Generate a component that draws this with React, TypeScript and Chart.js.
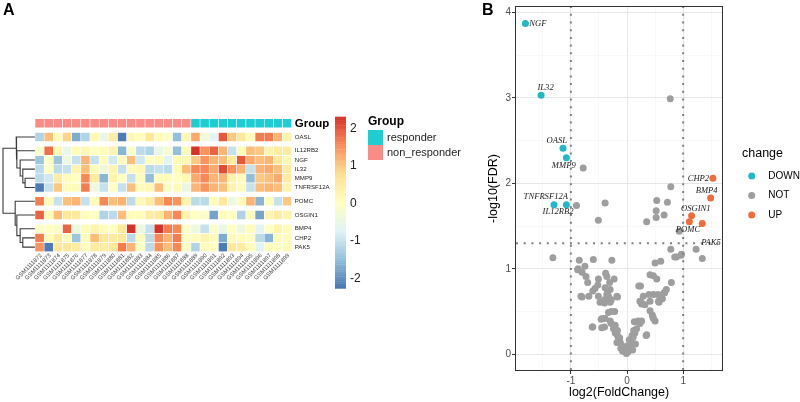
import React, { useEffect, useRef } from 'react';
import { Chart, registerables } from 'chart.js';
Chart.register(...registerables);

const SANS = "'Liberation Sans', Arial, Helvetica, sans-serif";
const SERIF = "'Liberation Serif', 'Times New Roman', serif";
Chart.defaults.font.family = SANS;

// ================= Panel A data =================
const sampleIds = [
  'GSM1111872', 'GSM1111873', 'GSM1111874', 'GSM1111875', 'GSM1111876', 'GSM1111877', 'GSM1111878',
  'GSM1111879', 'GSM1111880', 'GSM1111881', 'GSM1111882', 'GSM1111883', 'GSM1111884', 'GSM1111885',
  'GSM1111886', 'GSM1111887', 'GSM1111888', 'GSM1111889', 'GSM1111890', 'GSM1111891', 'GSM1111892',
  'GSM1111893', 'GSM1111894', 'GSM1111895', 'GSM1111896', 'GSM1111897', 'GSM1111898', 'GSM1111899',
];
const sampleGroup = [
  'non_responder', 'non_responder', 'non_responder', 'non_responder', 'non_responder', 'non_responder',
  'non_responder', 'non_responder', 'non_responder', 'non_responder', 'non_responder', 'non_responder',
  'non_responder', 'non_responder', 'non_responder', 'non_responder', 'non_responder',
  'responder', 'responder', 'responder', 'responder', 'responder', 'responder', 'responder', 'responder',
  'responder', 'responder', 'responder',
];
const groupLevels = ['responder', 'non_responder'];
const genes = ['OASL', 'IL12RB2', 'NGF', 'IL32', 'MMP9', 'TNFRSF12A', 'POMC', 'OSGIN1', 'BMP4', 'CHP2', 'PAK5'];
const geneCluster = [1, 2, 2, 2, 2, 2, 3, 4, 5, 5, 5];

const exprOASL = [-1.2, 1.1, 0.1, 0.9, -1.7, -1.2, 0.2, -0.5, 0.5, -2.2, 0.2, 0.1, 0.6, 0.1, -0.1, -1.5, 0.2, 1.3, -0.3, -0.7, 2.0, 1.0, 0.6, 0.1, 1.7, 1.7, 1.2, 0.3];
const exprIL12RB2 = [-0.2, 1.8, 0.2, -0.5, 0.1, 0.2, 0.0, 0.1, 0.3, -1.6, -0.1, -1.1, -1.2, -0.5, -0.2, -1.5, 0.1, 2.3, 1.5, 1.9, 1.2, -1.0, 0.1, 1.1, 1.0, 0.3, 0.5, 0.5];
const exprNGF = [-1.4, 0.0, -1.4, -0.4, -1.0, 1.2, -1.0, 0.1, -0.9, 0.1, 1.1, -0.9, 0.0, 0.1, -0.7, 0.1, 0.2, 1.0, 1.5, 1.2, 1.1, 0.5, 2.0, 1.3, 1.1, 1.2, 0.6, 0.2];
const exprIL32 = [-1.1, 0.0, -1.1, -1.0, 0.3, 1.1, 0.1, -0.4, 0.3, -1.0, 0.1, 0.2, -1.1, -1.0, -1.1, 0.1, 1.1, 1.6, 1.6, 1.3, 2.1, 1.5, 1.2, -1.0, 1.2, 1.3, 1.1, 0.5];
const exprMMP9 = [-1.1, -0.9, 0.5, 0.1, 0.0, 1.6, 0.5, -1.6, 0.3, 0.0, -1.0, 0.1, -1.5, 0.1, 0.1, 0.0, 0.2, 1.3, 1.6, 1.2, 1.2, 0.3, 0.1, -1.5, 1.0, 1.1, 1.3, 0.5];
const exprTNFRSF12A = [-2.2, -1.0, 1.0, 0.1, 0.1, 1.7, -0.4, -1.0, 0.0, -1.0, 1.1, 0.1, 0.2, 1.1, -0.1, 0.1, -0.5, 1.2, 1.5, 1.2, 1.1, 0.3, 0.1, -1.0, 1.1, 1.2, 1.1, 0.3];
const exprPOMC = [1.7, 0.1, -1.0, 1.1, 1.2, -1.0, 0.1, 1.6, 1.1, 1.2, -1.1, 0.2, 0.5, 1.1, 1.6, 1.5, 0.3, -1.1, -1.1, 0.1, 0.6, -0.4, 0.1, 1.2, -1.6, 0.1, -1.0, 1.0];
const exprOSGIN1 = [1.9, 0.1, 1.1, 0.6, 0.6, 0.1, 0.0, -1.2, -1.1, 1.1, 0.1, 0.1, 0.5, 0.6, 1.2, 1.6, 0.3, 0.0, -0.1, -1.8, 0.1, 0.0, -1.2, 0.1, -1.8, 0.3, 0.5, 0.3];
const exprBMP4 = [-0.1, 0.0, -0.1, 1.9, -0.4, 0.1, 0.3, 0.1, 0.0, 0.6, 2.3, -0.4, -1.0, 2.3, 1.7, 1.6, -0.1, -0.4, -1.0, -0.1, -0.5, 0.0, -0.4, 0.1, -0.7, 0.0, 0.3, 0.1];
const exprCHP2 = [1.7, 0.1, 0.5, 0.1, -1.4, 0.1, 1.1, 0.6, 0.5, 0.6, -1.1, 0.1, -1.1, 1.6, 1.2, 1.7, 0.0, 0.1, 0.3, 0.1, -1.7, 0.1, 0.1, 0.0, -1.1, -1.6, 0.1, 0.1];
const exprPAK5 = [1.5, -2.2, 0.6, 0.6, 0.5, 0.0, 0.5, 0.5, 0.6, 1.7, 1.2, 0.0, -1.1, 1.5, 1.1, 1.6, 0.0, -1.2, 0.1, 0.0, -2.2, 0.6, 0.5, 0.1, -0.7, 0.1, 0.0, 0.1];
const exprRows = [exprOASL, exprIL12RB2, exprNGF, exprIL32, exprMMP9, exprTNFRSF12A, exprPOMC, exprOSGIN1, exprBMP4, exprCHP2, exprPAK5];

const colorLimits = [-2.27, 2.32];
const colorbarTicks = [2, 1, 0, -1, -2];

// hclust-style merges (negative = gene index, positive = earlier merge)
const dendroMerge = [[-5, -6], [-4, 1], [-3, 2], [-2, 3], [-1, 4], [-10, -11], [-9, 6], [-8, 7], [-7, 8], [5, 9]];
const dendroHeight = [3.1, 3.81, 4.64, 5.67, 5.88, 3.81, 4.64, 5.67, 6.19, 10];

// ================= Panel B data =================
const labeledGenes = ['NGF', 'IL32', 'OASL', 'MMP9', 'TNFRSF12A', 'IL12RB2', 'CHP2', 'BMP4', 'OSGIN1', 'POMC', 'PAK5'];
const labeledFC = [-1.81, -1.53, -1.14, -1.08, -1.30, -1.08, 1.53, 1.49, 1.15, 1.11, 1.34];
const labeledLogFDR = [3.87, 3.03, 2.41, 2.30, 1.75, 1.75, 2.06, 1.83, 1.62, 1.55, 1.53];
const otherFC = [
  0.77, -0.78, 0.78, 0.53, 0.72, -0.39, -0.90, 0.52, 0.66, 0.52, -0.51, 0.35, 0.93,
  -1.32, 0.78, 0.88, 0.97, 1.23, 1.34, 0.60, 0.50, -0.85, -0.60, -0.27, -0.87, -0.80, -0.75,
  -0.38, -0.36, -0.23, -0.31, -0.70, -0.52, -0.57, -0.61, -0.30, -0.35, -0.82, -0.68, -0.51,
  -0.33, -0.18, -0.28, -0.40, -0.48, -0.28, -0.22, -0.44, -0.39, -0.61, -0.40, -0.28, -0.24,
  -0.21, -0.17, -0.15, -0.12, -0.09, -0.06, -0.04, -0.01, -0.11, -0.18, -0.20, -0.13, -0.08,
  -0.03, 0.02, 0.05, 0.08, 0.11, 0.14, 0.17, 0.13, 0.20, 0.26, 0.34, 0.06, 0.10, 0.04, 0.12,
  0.09, 0.01, 0.15, 0.41, 0.47, 0.53, 0.24, 0.39, 0.47, 0.55, 0.62, 0.29, 0.66, 0.70, 0.79,
  0.26, 0.32, 0.41, 0.56, 0.63, 0.41, 0.45, 0.47, 0.85, 0.96, -0.88, -0.73, -0.51, -0.39,
  -0.80, -0.36, -0.17, -0.40, -0.30, -0.33, -0.46, -0.30, -0.62, -0.45, -0.17, -0.21, 0.35,
  0.23, 0.50, 0.46, 0.57, 0.67, 0.26, 0.21, 0.23,
];
const otherLogFDR = [
  2.99, 2.18, 1.96, 1.80, 1.78, 1.77, 1.74, 1.68, 1.63, 1.60, 1.57, 1.55, 1.44,
  1.13, 1.23, 1.14, 1.17, 1.23, 1.12, 1.09, 1.07, 1.10, 1.11, 1.10, 1.00, 0.96, 1.03,
  0.95, 0.91, 0.88, 0.84, 0.84, 0.81, 0.77, 0.74, 0.76, 0.72, 0.68, 0.68, 0.68,
  0.68, 0.68, 0.64, 0.64, 0.61, 0.50, 0.50, 0.42, 0.42, 0.32, 0.32, 0.36, 0.30,
  0.25, 0.22, 0.18, 0.14, 0.10, 0.07, 0.03, 0.01, 0.07, 0.14, 0.27, 0.19, 0.04,
  0.06, 0.03, 0.08, 0.14, 0.20, 0.25, 0.30, 0.38, 0.39, 0.39, 0.22, 0.12, 0.05, 0.17, 0.28,
  0.22, 0.10, 0.12, 0.93, 0.92, 0.88, 0.80, 0.70, 0.70, 0.70, 0.69, 0.68, 0.72, 0.76, 0.84,
  0.60, 0.58, 0.62, 0.62, 0.65, 0.51, 0.46, 0.42, 1.14, 1.16, 0.99, 0.91, 0.88, 0.78,
  0.67, 0.70, 0.67, 0.60, 0.61, 0.49, 0.41, 0.39, 0.32, 0.31, 0.28, 0.34, 0.23,
  0.36, 0.39, 0.44, 0.61, 0.72, 0.59, 0.80, 0.62,
];
const fcCutoff = 1;
const fdrCutoff = 0.05;
const changeLevels = ['DOWN', 'NOT', 'UP'];
const xTicksB = [-1, 0, 1];
const yTicksB = [0, 1, 2, 3, 4];

// ================= styles =================
const groupColors: Record<string, string> = { responder: '#1DCDD2', non_responder: '#F98C86' };
const changeColors: Record<string, string> = { DOWN: '#22B9C6', NOT: '#9E9E9E', UP: '#F26B3A' };
const palette = ['#4575B4', '#91BFDB', '#E0F3F8', '#FFFFBF', '#FEE090', '#FC8D59', '#D73027'];

function hexToRgb(h: string) {
  const n = parseInt(h.slice(1), 16);
  return [(n >> 16) & 255, (n >> 8) & 255, n & 255];
}
const palRgb = palette.map(hexToRgb);
function colorFor(v: number) {
  let t = (v - colorLimits[0]) / (colorLimits[1] - colorLimits[0]);
  t = Math.max(0, Math.min(1, t));
  const s = t * (palRgb.length - 1);
  const i = Math.min(palRgb.length - 2, Math.floor(s));
  const f = s - i;
  const a = palRgb[i], b = palRgb[i + 1];
  const c = a.map((x, k) => Math.round(x + (b[k] - x) * f));
  return `rgb(${c[0]},${c[1]},${c[2]})`;
}

function Heatmap() {
  const ref = useRef<HTMLCanvasElement>(null);
  useEffect(() => {
    const W = 480;
    const H = 402;
    const CELL = 9.17;
    const DENDRO_W = 32;
    const LEFT = 3;
    const TOP = 118.7;
    const nCol = sampleIds.length;

    const rowTop: number[] = [];
    let pos = 1.5;
    genes.forEach((_, i) => {
      if (i > 0 && geneCluster[i] !== geneCluster[i - 1]) pos += 0.5;
      rowTop.push(pos);
      pos += 1;
    });
    const yMax = pos;
    const areaW = DENDRO_W + nCol * CELL;
    const areaH = yMax * CELL;
    const rootH = Math.max(...dendroHeight);

    const barStyle = {
      type: 'bar',
      borderColor: '#ffffff',
      borderWidth: 0.6,
      borderSkipped: false,
      grouped: false,
      barThickness: CELL,
      xAxisID: 'x',
      yAxisID: 'y',
    };
    const datasets: any[] = [];
    datasets.push({
      ...barStyle,
      data: sampleIds.map((_, c) => ({ x: c, y: [0, 1] })),
      backgroundColor: sampleGroup.map((g) => groupColors[g]),
    });
    exprRows.forEach((row, i) => {
      datasets.push({
        ...barStyle,
        data: row.map((_, c) => ({ x: c, y: [rowTop[i], rowTop[i] + 1] })),
        backgroundColor: row.map(colorFor),
      });
    });
    const nodeY: number[] = [];
    const nodeH: number[] = [];
    const coord = (id: number) =>
      id < 0 ? { h: 0, y: rowTop[-id - 1] + 0.5 } : { h: nodeH[id - 1], y: nodeY[id - 1] };
    dendroMerge.forEach(([a, b], m) => {
      const A = coord(a);
      const B = coord(b);
      const h = dendroHeight[m];
      nodeY[m] = (A.y + B.y) / 2;
      nodeH[m] = h;
      datasets.push({
        type: 'line',
        xAxisID: 'xd',
        yAxisID: 'y',
        data: [
          { x: -A.h, y: A.y },
          { x: -h, y: A.y },
          { x: -h, y: B.y },
          { x: -B.h, y: B.y },
        ],
        borderColor: '#3a3a3a',
        borderWidth: 1.1,
        pointRadius: 0,
        fill: false,
        tension: 0,
        clip: 3,
      });
    });

    const textPlugin = {
      id: 'heatText',
      afterDraw(chart: any) {
        const ctx = chart.ctx;
        const xs = chart.scales.x;
        const ys = chart.scales.y;
        const ca = chart.chartArea;
        ctx.save();
        ctx.fillStyle = '#000';
        ctx.font = `bold 16px ${SANS}`;
        ctx.textBaseline = 'middle';
        ctx.textAlign = 'left';
        ctx.fillText('A', 3, 11);
        // row labels
        ctx.font = `6.1px ${SANS}`;
        ctx.fillStyle = '#222';
        genes.forEach((g, i) => {
          ctx.fillText(g, ca.right + 3, ys.getPixelForValue(rowTop[i] + 0.5));
        });
        ctx.font = `bold 11.5px ${SANS}`;
        ctx.fillStyle = '#000';
        ctx.fillText('Group', ca.right + 3, ys.getPixelForValue(0.5) + 0.5);
        // column labels
        ctx.font = `5.8px ${SANS}`;
        ctx.fillStyle = '#444';
        ctx.textAlign = 'right';
        sampleIds.forEach((s, c) => {
          ctx.save();
          ctx.translate(xs.getPixelForValue(c) + 1.5, ca.bottom + 3);
          ctx.rotate(-Math.PI / 4);
          ctx.fillText(s, 0, 0);
          ctx.restore();
        });
        // colour bar
        const cbX = 335;
        const cbW = 11;
        const cbTop = 116.7;
        const cbBot = 288.3;
        const vToY = (v: number) =>
          cbBot - ((v - colorLimits[0]) / (colorLimits[1] - colorLimits[0])) * (cbBot - cbTop);
        const N = 100;
        for (let k = 0; k < N; k++) {
          const v0 = colorLimits[0] + ((colorLimits[1] - colorLimits[0]) * k) / N;
          const v1 = colorLimits[0] + ((colorLimits[1] - colorLimits[0]) * (k + 1)) / N;
          ctx.fillStyle = colorFor((v0 + v1) / 2);
          const y0 = vToY(v1);
          const y1 = vToY(v0);
          ctx.fillRect(cbX, y0, cbW, y1 - y0 + 0.4);
        }
        ctx.fillStyle = '#222';
        ctx.font = `12px ${SANS}`;
        ctx.textAlign = 'left';
        colorbarTicks.forEach((t) => ctx.fillText(String(t), cbX + 15, vToY(t)));
        // group legend
        ctx.fillStyle = '#000';
        ctx.font = `bold 12px ${SANS}`;
        ctx.fillText('Group', 368, 122);
        groupLevels.forEach((g, i) => {
          ctx.fillStyle = groupColors[g];
          ctx.fillRect(368, 130 + i * 15, 15, 15);
          ctx.fillStyle = '#222';
          ctx.font = `11px ${SANS}`;
          ctx.fillText(g, 387, 137.5 + i * 15);
        });
        ctx.restore();
      },
    };

    const chart = new Chart(ref.current as HTMLCanvasElement, {
      type: 'bar',
      data: { datasets },
      options: {
        animation: false,
        responsive: false,
        devicePixelRatio: 1,
        events: [],
        layout: {
          padding: { left: LEFT, top: TOP, right: W - LEFT - areaW, bottom: H - TOP - areaH },
        },
        plugins: { legend: { display: false }, tooltip: { enabled: false } },
        scales: {
          x: { type: 'linear', display: false, offset: false, min: -0.5 - DENDRO_W / CELL, max: nCol - 0.5 },
          xd: {
            type: 'linear',
            axis: 'x',
            display: false,
            offset: false,
            min: -rootH,
            max: -rootH + (areaW * rootH) / DENDRO_W,
          },
          y: { type: 'linear', display: false, reverse: true, min: 0, max: yMax },
        },
      } as any,
      plugins: [textPlugin],
    } as any);
    return () => chart.destroy();
  }, []);
  return (
    <canvas
      ref={ref}
      width={480}
      height={402}
      style={{ position: 'absolute', left: 0, top: 0, width: 480, height: 402 }}
    />
  );
}

function Volcano() {
  const ref = useRef<HTMLCanvasElement>(null);
  useEffect(() => {
    const pts = [
      ...labeledFC.map((fc, i) => ({ fc, lf: labeledLogFDR[i], gene: labeledGenes[i] })),
      ...otherFC.map((fc, i) => ({ fc, lf: otherLogFDR[i], gene: '' })),
    ];
    const thr = -Math.log10(fdrCutoff);
    const classify = (p: { fc: number; lf: number }) =>
      p.lf > thr ? (p.fc > fcCutoff ? 'UP' : p.fc < -fcCutoff ? 'DOWN' : 'NOT') : 'NOT';
    const fcs = pts.map((p) => p.fc);
    const lfs = pts.map((p) => p.lf);
    const xr = [Math.min(...fcs), Math.max(...fcs)];
    const yr = [Math.min(...lfs), Math.max(...lfs)];
    const xPad = (xr[1] - xr[0]) * 0.05;
    const yPad = (yr[1] - yr[0]) * 0.05;

    const datasets = ['NOT', 'DOWN', 'UP'].map((lvl) => ({
      label: lvl,
      data: pts.filter((p) => classify(p) === lvl).map((p) => ({ x: p.fc, y: p.lf })),
      pointRadius: 3.5,
      pointHoverRadius: 3.5,
      pointBorderWidth: 0,
      pointBackgroundColor: changeColors[lvl],
      backgroundColor: changeColors[lvl],
      showLine: false,
    }));

    const labelOffsets: Record<string, [number, number]> = {
      NGF: [12.5, 0], IL32: [4.5, -7.3], OASL: [-6.3, -8], MMP9: [-2.6, 7.7],
      TNFRSF12A: [-8.2, -7.7], IL12RB2: [-8.3, 7.3], CHP2: [-14.5, 0.3], BMP4: [-4, -6.7],
      OSGIN1: [4.2, -7.6], POMC: [-1.4, 8], PAK5: [8.8, 18.7],
    };

    const isMajor = (v: number) => Math.abs(v - Math.round(v)) < 1e-6;
    const gridOpts = {
      color: (c: any) => (c.tick && isMajor(c.tick.value) ? '#E6E6E6' : '#F3F3F3'),
      lineWidth: (c: any) => (c.tick && isMajor(c.tick.value) ? 1 : 0.6),
      tickColor: (c: any) => (c.tick && isMajor(c.tick.value) ? '#333333' : 'rgba(0,0,0,0)'),
      tickWidth: 1,
      tickLength: 4,
      drawTicks: true,
    };
    const withMinor = (major: number[]) => {
      const out: number[] = [];
      major.forEach((m) => out.push(m));
      major.forEach((m) => { out.push(m - 0.5); out.push(m + 0.5); });
      return Array.from(new Set(out)).sort((a, b) => a - b);
    };

    const plugin = {
      id: 'volcanoDeco',
      afterDatasetsDraw(chart: any) {
        const ctx = chart.ctx;
        const xs = chart.scales.x;
        const ys = chart.scales.y;
        const ca = chart.chartArea;
        ctx.save();
        ctx.beginPath();
        ctx.rect(ca.left, ca.top, ca.right - ca.left, ca.bottom - ca.top);
        ctx.clip();
        ctx.strokeStyle = '#7f7f7f';
        ctx.lineWidth = 2;
        ctx.setLineDash([2, 5.7]);
        [-fcCutoff, fcCutoff].forEach((v) => {
          const x = xs.getPixelForValue(v);
          ctx.beginPath();
          ctx.moveTo(x, ca.bottom);
          ctx.lineTo(x, ca.top);
          ctx.stroke();
        });
        const yT = ys.getPixelForValue(thr);
        ctx.beginPath();
        ctx.moveTo(ca.left, yT);
        ctx.lineTo(ca.right, yT);
        ctx.stroke();
        ctx.setLineDash([]);
        ctx.restore();
        // gene labels
        ctx.save();
        ctx.font = `italic 8.6px ${SERIF}`;
        ctx.fillStyle = '#222';
        ctx.textAlign = 'center';
        ctx.textBaseline = 'middle';
        labeledGenes.forEach((g, i) => {
          const o = labelOffsets[g] || [0, 0];
          ctx.fillText(g, xs.getPixelForValue(labeledFC[i]) + o[0], ys.getPixelForValue(labeledLogFDR[i]) + o[1]);
        });
        ctx.restore();
      },
      afterDraw(chart: any) {
        const ctx = chart.ctx;
        const ca = chart.chartArea;
        ctx.save();
        ctx.strokeStyle = '#333';
        ctx.lineWidth = 1;
        ctx.strokeRect(Math.round(ca.left) - 0.5, Math.round(ca.top) - 0.5, Math.round(ca.right - ca.left) + 1, Math.round(ca.bottom - ca.top) + 1);
        ctx.fillStyle = '#000';
        ctx.font = `bold 16px ${SANS}`;
        ctx.textBaseline = 'middle';
        ctx.textAlign = 'left';
        ctx.fillText('B', 2, 11);
        ctx.font = `12.5px ${SANS}`;
        ctx.textAlign = 'center';
        ctx.fillText('log2(FoldChange)', (ca.left + ca.right) / 2, 393);
        ctx.save();
        ctx.translate(14, (ca.top + ca.bottom) / 2);
        ctx.rotate(-Math.PI / 2);
        ctx.fillText('-log10(FDR)', 0, 0);
        ctx.restore();
        // legend
        ctx.textAlign = 'left';
        ctx.font = `12.5px ${SANS}`;
        ctx.fillText('change', 262, 154);
        ctx.font = `10px ${SANS}`;
        changeLevels.forEach((lvl, i) => {
          const y = 176 + i * 19.5;
          ctx.fillStyle = changeColors[lvl];
          ctx.beginPath();
          ctx.arc(271.7, y, 3.5, 0, Math.PI * 2);
          ctx.fill();
          ctx.fillStyle = '#000';
          ctx.fillText(lvl, 288.3, y);
        });
        ctx.restore();
      },
    };

    const chart = new Chart(ref.current as HTMLCanvasElement, {
      type: 'scatter',
      data: { datasets },
      options: {
        animation: false,
        responsive: false,
        devicePixelRatio: 1,
        events: [],
        layout: { padding: { left: 0, top: 3.3, right: 77.7, bottom: 0 } },
        plugins: { legend: { display: false }, tooltip: { enabled: false } },
        scales: {
          x: {
            type: 'linear',
            min: xr[0] - xPad,
            max: xr[1] + xPad,
            afterFit: (s: any) => { s.height = 32; },
            afterBuildTicks: (s: any) => { s.ticks = withMinor(xTicksB).map((v) => ({ value: v })); },
            ticks: {
              autoSkip: false,
              maxRotation: 0,
              padding: 1,
              color: '#4D4D4D',
              font: { size: 10 },
              callback: (v: any) => (xTicksB.includes(Number(v)) ? String(v) : ''),
            },
            grid: gridOpts,
            border: { display: false },
          },
          y: {
            type: 'linear',
            min: yr[0] - yPad,
            max: yr[1] + yPad,
            afterFit: (s: any) => { s.width = 36; },
            afterBuildTicks: (s: any) => { s.ticks = withMinor(yTicksB).filter((v) => v >= 0).map((v) => ({ value: v })); },
            ticks: {
              autoSkip: false,
              padding: 1,
              color: '#4D4D4D',
              font: { size: 10 },
              callback: (v: any) => (yTicksB.includes(Number(v)) ? String(v) : ''),
            },
            grid: gridOpts,
            border: { display: false },
          },
        },
      } as any,
      plugins: [plugin],
    } as any);
    return () => chart.destroy();
  }, []);
  return (
    <canvas
      ref={ref}
      width={320}
      height={402}
      style={{ position: 'absolute', left: 480, top: 0, width: 320, height: 402 }}
    />
  );
}

export default function App() {
  return (
    <div style={{ position: 'absolute', left: 0, top: 0, width: 800, height: 402, background: '#ffffff' }}>
      <Heatmap />
      <Volcano />
    </div>
  );
}
